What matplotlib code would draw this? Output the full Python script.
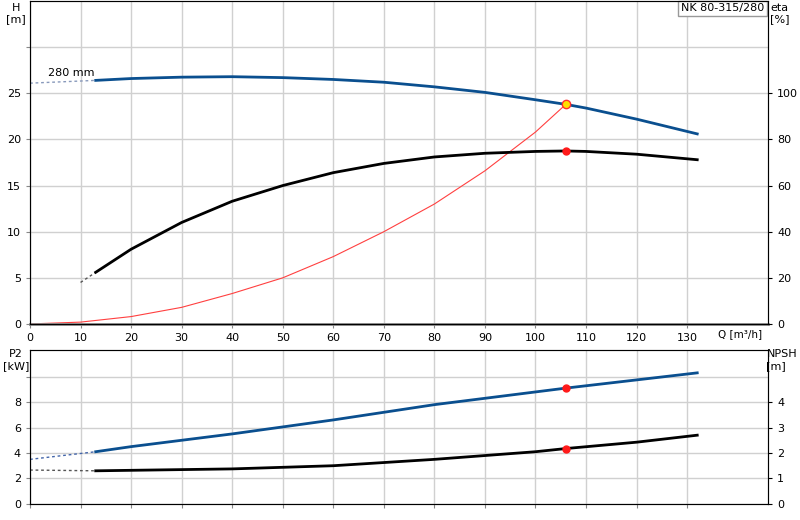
import matplotlib
matplotlib.use("Agg")
import matplotlib.pyplot as plt

q_h = [13, 20, 30, 40, 50, 60, 70, 80, 90, 100, 106, 110, 120, 132]
h = [26.4, 26.6, 26.75, 26.8, 26.7, 26.5, 26.2, 25.7, 25.1, 24.3, 23.8, 23.4, 22.2, 20.6]
q_h_dash = [0, 13]
h_dash = [26.1, 26.4]
q_eta = [13, 20, 30, 40, 50, 60, 70, 80, 90, 100, 106, 110, 120, 132]
eta = [22.4, 32.4, 44, 53.2, 60, 65.6, 69.6, 72.4, 74, 74.8, 75, 74.8, 73.6, 71.2]
q_eta_dash = [10, 13]
eta_dash = [18, 22.4]
q_sys = [0, 10, 20, 30, 40, 50, 60, 70, 80, 90, 100, 106]
h_sys = [0, 0.2, 0.8, 1.8, 3.3, 5.0, 7.3, 10.0, 13.0, 16.6, 20.8, 23.8]
q_p2 = [13, 20, 40, 60, 80, 100, 106, 132]
p2 = [4.1, 4.5, 5.5, 6.6, 7.8, 8.8, 9.1, 10.3]
q_p2_dash = [0, 13]
p2_dash = [3.5, 4.1]
q_npsh = [13, 40, 60, 80, 100, 106, 120, 132]
npsh = [1.3, 1.375, 1.5, 1.75, 2.05, 2.175, 2.425, 2.7]
q_npsh_dash = [0, 13]
npsh_dash = [1.33, 1.3]
q_duty = 106

BLUE = "#0a4f8f"
GRID = "#d0d0d0"
fig = plt.figure(figsize=(8, 5.2), dpi=100)
ax1 = fig.add_axes([0.0375, 0.377, 0.9225, 0.621])
ax2 = fig.add_axes([0.0375, 0.031, 0.9225, 0.296])

for ax in (ax1, ax2):
    ax.set_xlim(0, 146)
    ax.set_xticks(range(0, 140, 10))
    ax.grid(True, color=GRID, lw=1)
    ax.tick_params(labelsize=8, length=3, color="#888")
    for s in ax.spines.values():
        s.set_color("#555")

ax1.set_ylim(0, 35)
ax1.set_yticks([0, 5, 10, 15, 20, 25, 30])
ax1.set_yticklabels(["0", "5", "10", "15", "20", "25", ""])
ax1.set_xticklabels([str(v) for v in range(0, 140, 10)])
ax1.spines["bottom"].set_linewidth(2)
ax1.spines["bottom"].set_color("#888")
ax1r = ax1.twinx()
ax1r.set_ylim(0, 140)
ax1r.set_yticks([0, 20, 40, 60, 80, 100])
ax1r.tick_params(labelsize=8, length=3)

ax1.plot(q_h_dash, h_dash, ls=(0, (2, 2)), color="#8899bb", lw=1)
ax1.plot(q_h, h, color=BLUE, lw=2)
ax1r.plot(q_eta_dash, eta_dash, ls=(0, (2, 2)), color="#555", lw=1)
ax1r.plot(q_eta, eta, color="black", lw=2)
ax1.plot(q_sys, h_sys, color="#ff4040", lw=0.8)
ax1.plot(q_duty, h_sys[-1], "o", ms=6, mfc="#ffe000", mec="#ff3030")
ax1r.plot(q_duty, 75, "o", ms=5, color="#ff1a1a")
ax1.text(3.5, 26.9, "280 mm", fontsize=8)
fig.text(0.02, 0.995, "H\n[m]", fontsize=8, ha="center", va="top")
fig.text(0.963, 0.995, "eta\n[%]", fontsize=8, ha="left", va="top")
fig.text(0.898, 0.358, "Q [m³/h]", fontsize=7.5, ha="left", va="center")
ax1.text(0.995, 0.993, "NK 80-315/280", transform=ax1.transAxes, fontsize=8,
         ha="right", va="top", bbox=dict(fc="white", ec="#999", pad=2))

ax2.set_ylim(0, 12.1)
ax2.set_yticks([0, 2, 4, 6, 8, 10])
ax2.set_yticklabels(["0", "2", "4", "6", "8", ""])
ax2.set_xticklabels([])
ax2r = ax2.twinx()
ax2r.set_ylim(0, 6.05)
ax2r.set_yticks([0, 1, 2, 3, 4])
ax2r.tick_params(labelsize=8, length=3)
ax2.plot(q_p2_dash, p2_dash, ls=(0, (2, 2)), color="#4466aa", lw=1)
ax2.plot(q_p2, p2, color=BLUE, lw=2)
ax2r.plot(q_npsh_dash, npsh_dash, ls=(0, (2, 2)), color="#555", lw=1)
ax2r.plot(q_npsh, npsh, color="black", lw=2)
ax2.plot(q_duty, 9.1, "o", ms=5, color="#ff1a1a")
ax2r.plot(q_duty, 2.175, "o", ms=5, color="#ff1a1a")
fig.text(0.02, 0.328, "P2\n[kW]", fontsize=8, ha="center", va="top")
fig.text(0.958, 0.328, "NPSH\n[m]", fontsize=8, ha="left", va="top")

fig.savefig("out.png", dpi=100)
